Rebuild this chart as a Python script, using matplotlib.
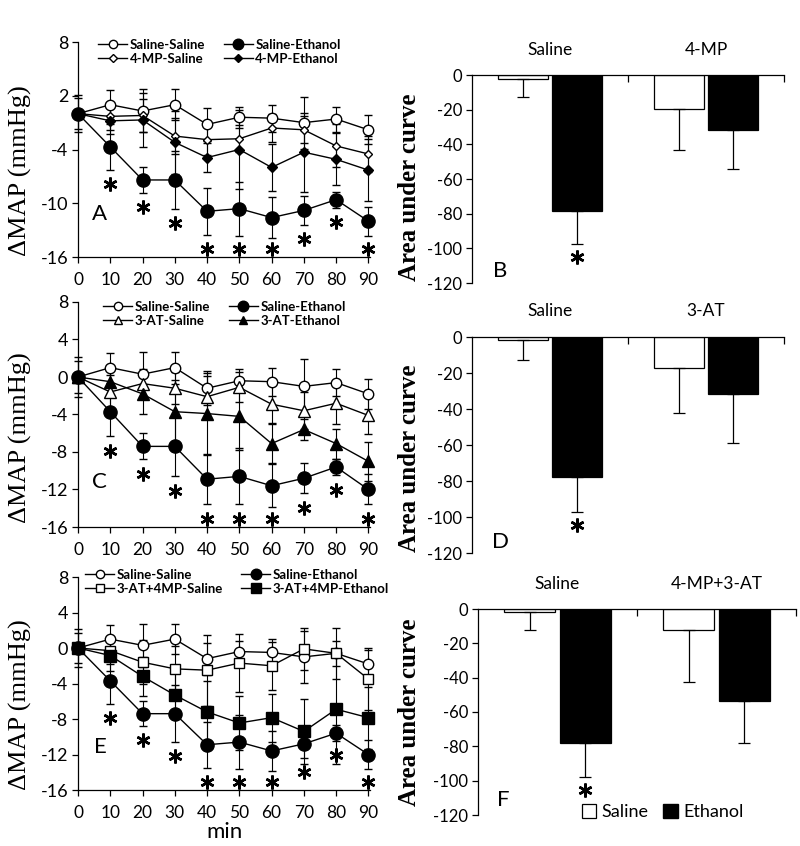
"""Ethanol / 4-MP / 3-AT blood pressure figure: MAP time course (A, C, E) and AUC bars (B, D, F)."""
import matplotlib.pyplot as plt
import numpy as np
from matplotlib.lines import Line2D
from matplotlib.patches import Patch

plt.rcParams["font.family"] = ["Lato", "DejaVu Sans"]
plt.rcParams["axes.unicode_minus"] = False

# --- values ---
TIME = [0, 10, 20, 30, 40, 50, 60, 70, 80, 90]

SAL_SAL = [0, 1.0, 0.3, 1.0, -1.2, -0.4, -0.5, -1.0, -0.6, -1.8]
SAL_SAL_ERR = [2.1, 1.6, 2.4, 1.7, 1.8, 1.2, 1.5, 2.9, 1.4, 1.6]
SAL_ETH = [0, -3.7, -7.4, -7.4, -10.9, -10.6, -11.6, -10.8, -9.6, -12.0]
SAL_ETH_ERR = [1.7, 2.6, 1.4, 3.2, 2.6, 3.0, 2.3, 1.6, 0.9, 1.6]

MP_SAL = [0, -0.3, -0.2, -2.5, -2.9, -2.8, -1.6, -1.8, -3.6, -4.5]
MP_SAL_ERR = [0, 1.5, 1.8, 2.0, 1.7, 1.5, 1.6, 1.5, 2.4, 2.0]
MP_ETH = [0, -0.8, -0.7, -3.2, -4.9, -4.0, -6.0, -4.3, -5.1, -6.3]
MP_ETH_ERR = [0, 1.5, 3.0, 3.5, 1.6, 4.4, 2.6, 4.4, 2.9, 3.5]

AT_SAL = [0, -1.6, -0.7, -1.2, -2.1, -1.1, -2.9, -3.6, -2.8, -4.1]
AT_SAL_ERR = [0, 1.8, 1.5, 1.7, 2.2, 1.6, 2.0, 2.0, 2.2, 2.0]
AT_ETH = [0, -0.5, -1.8, -3.7, -3.9, -4.2, -7.1, -5.6, -7.1, -9.0]
AT_ETH_ERR = [0, 1.4, 2.1, 3.4, 4.3, 3.6, 2.1, 1.1, 1.6, 2.1]

COMBO_SAL = [0, -0.3, -1.6, -2.35, -2.5, -1.7, -2.0, -0.1, -0.6, -3.5]
COMBO_SAL_ERR = [0, 1.5, 2.5, 2.6, 4.0, 3.3, 2.7, 2.4, 2.9, 3.5]
COMBO_ETH = [0, -0.85, -3.2, -5.3, -7.2, -8.45, -7.85, -9.4, -6.9, -7.85]
COMBO_ETH_ERR = [0, 1.7, 2.2, 2.6, 3.5, 3.0, 2.7, 3.7, 6.2, 3.5]

# area under curve, [saline pretreatment, drug pretreatment]
AUC_B_GROUPS = ["Saline", "4-MP"]
AUC_B_SAL = [-2.3, -19.5]
AUC_B_SAL_ERR = [10.2, 24.0]
AUC_B_ETH = [-78.5, -32.0]
AUC_B_ETH_ERR = [19.0, 22.0]

AUC_D_GROUPS = ["Saline", "3-AT"]
AUC_D_SAL = [-1.8, -17.5]
AUC_D_SAL_ERR = [11.0, 25.0]
AUC_D_ETH = [-78.0, -31.5]
AUC_D_ETH_ERR = [19.0, 27.5]

AUC_F_GROUPS = ["Saline", "4-MP+3-AT"]
AUC_F_SAL = [-1.8, -12.5]
AUC_F_SAL_ERR = [10.7, 30.3]
AUC_F_ETH = [-78.2, -53.5]
AUC_F_ETH_ERR = [19.5, 24.7]

W, H = 800, 846


def box(left, top, right, bottom):
    return [left / W, 1 - bottom / H, (right - left) / W, (bottom - top) / H]


def star_marks(ax, x, y):
    ax.plot(x, y, linestyle="none", marker=(6, 2, 0), ms=10, mew=1.8,
            color="black", clip_on=False, zorder=5)


def line_panel(fig, rect, series, labels, letter, yticks, legend_xy):
    ax = fig.add_axes(rect)
    handles = []
    for (mean, err, marker, ms, face), lab in zip(series, labels):
        ax.errorbar(TIME, mean, yerr=err, color="black", lw=1.0, marker=marker,
                    ms=ms, mfc=face, mec="black", mew=1.0, capsize=3,
                    elinewidth=0.8, capthick=0.8, clip_on=False, zorder=3)
        handles.append(Line2D([], [], color="black", lw=1.0, marker=marker,
                              ms=ms * 0.8, mfc=face, mec="black", mew=1.0))
    # significance stars under the Saline-Ethanol curve
    eth = np.array(SAL_ETH[1:])
    eth_err = np.array(SAL_ETH_ERR[1:])
    star_marks(ax, TIME[1:], np.maximum(eth - eth_err - 1.6, -15.1))

    ax.set_xlim(0, 90.5)
    ax.set_ylim(-16, 8)
    ax.set_xticks(TIME)
    ax.set_yticks(yticks)
    ax.set_yticklabels([str(t) for t in yticks])
    ax.tick_params(axis="x", labelsize=12.5, length=4, width=0.9, pad=7)
    ax.tick_params(axis="y", labelsize=13, length=4, width=0.9, pad=3)
    for side in ("top", "right"):
        ax.spines[side].set_visible(False)
    for side in ("left", "bottom"):
        ax.spines[side].set_linewidth(0.9)
    order = [0, 2, 1, 3]
    ax.legend([handles[i] for i in order], [labels[i] for i in order], ncol=2,
              loc="upper left", bbox_to_anchor=legend_xy, bbox_transform=fig.transFigure,
              frameon=False, borderpad=0, borderaxespad=0, handlelength=2.2,
              handletextpad=0.2, labelspacing=0.15, columnspacing=1.4,
              prop={"weight": "bold", "size": 9.5})
    ax.text(0.075, 0.2, letter, transform=ax.transAxes, fontsize=16,
            ha="center", va="center")
    return ax


def bar_panel(fig, rect, groups, sal, sal_err, eth, eth_err, letter, letter_xy):
    ax = fig.add_axes(rect)
    pos = np.arange(len(groups)) + 0.5
    width = 0.32
    zeros = np.zeros(len(groups))
    ax.bar(pos - 0.175, sal, width, color="white", edgecolor="black", lw=0.9, zorder=2)
    ax.bar(pos + 0.175, eth, width, color="black", edgecolor="black", lw=0.9, zorder=2)
    ax.errorbar(pos - 0.175, sal, yerr=[sal_err, zeros], fmt="none", ecolor="black",
                elinewidth=0.9, capsize=4, capthick=0.9, zorder=3)
    ax.errorbar(pos + 0.175, eth, yerr=[eth_err, zeros], fmt="none", ecolor="black",
                elinewidth=0.9, capsize=4, capthick=0.9, zorder=3)
    star_marks(ax, [pos[0] + 0.175], [eth[0] - eth_err[0] - 7.5])

    ax.set_xlim(0, len(groups))
    ax.set_ylim(-120, 0)
    yt = np.arange(-120, 1, 20)
    ax.set_yticks(yt)
    ax.set_yticklabels([str(int(t)) for t in yt])
    ax.xaxis.tick_top()
    ax.set_xticks(np.arange(1, len(groups) + 1))
    ax.set_xticklabels([])
    ax.tick_params(axis="x", direction="in", length=5, width=0.9)
    ax.tick_params(axis="y", labelsize=12, length=4, width=0.9, pad=3)
    for side in ("bottom", "right"):
        ax.spines[side].set_visible(False)
    for side in ("left", "top"):
        ax.spines[side].set_linewidth(0.9)
    for p, g in zip(pos, groups):
        ax.text(p, 1.12, g, transform=ax.get_xaxis_transform(), ha="center",
                va="center", fontsize=12.5)
    ax.text(letter_xy[0], letter_xy[1], letter, transform=ax.transAxes,
            fontsize=16, ha="center", va="center")
    return ax


fig = plt.figure(figsize=(8.0, 8.46), dpi=100)

line_panel(fig, box(78, 42, 370, 257),
           [(SAL_SAL, SAL_SAL_ERR, "o", 7.5, "white"),
            (SAL_ETH, SAL_ETH_ERR, "o", 9.5, "black"),
            (MP_SAL, MP_SAL_ERR, "D", 4.5, "white"),
            (MP_ETH, MP_ETH_ERR, "D", 5.5, "black")],
           ["Saline-Saline", "Saline-Ethanol", "4-MP-Saline", "4-MP-Ethanol"],
           "A", [8, 2, -4, -10, -16], (98 / W, 1 - 39 / H))

line_panel(fig, box(78, 302, 370, 527),
           [(SAL_SAL, SAL_SAL_ERR, "o", 7.5, "white"),
            (SAL_ETH, SAL_ETH_ERR, "o", 9.5, "black"),
            (AT_SAL, AT_SAL_ERR, "^", 8, "white"),
            (AT_ETH, AT_ETH_ERR, "^", 8, "black")],
           ["Saline-Saline", "Saline-Ethanol", "3-AT-Saline", "3-AT-Ethanol"],
           "C", [8, 4, 0, -4, -8, -12, -16], (103 / W, 1 - 301 / H))

line_panel(fig, box(78, 577, 370, 790),
           [(SAL_SAL, SAL_SAL_ERR, "o", 7.5, "white"),
            (SAL_ETH, SAL_ETH_ERR, "o", 9.5, "black"),
            (COMBO_SAL, COMBO_SAL_ERR, "s", 7.5, "white"),
            (COMBO_ETH, COMBO_ETH_ERR, "s", 9, "black")],
           ["Saline-Saline", "Saline-Ethanol", "3-AT+4MP-Saline", "3-AT+4MP-Ethanol"],
           "E", [8, 4, 0, -4, -8, -12, -16], (85 / W, 1 - 569 / H))
fig.text(224 / W, 1 - 832 / H, "min", ha="center", va="center", fontsize=16)

bar_panel(fig, box(472, 75, 784, 283), AUC_B_GROUPS, AUC_B_SAL, AUC_B_SAL_ERR,
          AUC_B_ETH, AUC_B_ETH_ERR, "B", (0.09, 0.06))
bar_panel(fig, box(472, 337, 784, 553), AUC_D_GROUPS, AUC_D_SAL, AUC_D_SAL_ERR,
          AUC_D_ETH, AUC_D_ETH_ERR, "D", (0.09, 0.05))
axf = bar_panel(fig, box(478, 609, 796, 815), AUC_F_GROUPS, AUC_F_SAL, AUC_F_SAL_ERR,
                AUC_F_ETH, AUC_F_ETH_ERR, "F", (0.08, 0.075))
axf.legend([Patch(fc="white", ec="black", lw=0.9), Patch(fc="black", ec="black")],
           ["Saline", "Ethanol"], ncol=2, loc="center left",
           bbox_to_anchor=(582 / W, 1 - 812 / H), bbox_transform=fig.transFigure,
           frameon=False, borderpad=0, borderaxespad=0, handlelength=0.8,
           handleheight=0.8, handletextpad=0.3, columnspacing=0.8, fontsize=13)

# axis titles
for yc in (171, 438, 705):
    fig.text(20 / W, 1 - yc / H, "\u0394MAP (mmHg)", rotation=90, ha="center",
             va="center", fontsize=19, family="Liberation Serif")
for yc in (187, 458, 712):
    fig.text(410 / W, 1 - yc / H, "Area under curve", rotation=90, ha="center",
             va="center", fontsize=18, fontweight="bold", family="Liberation Serif")

fig.savefig("out.png", dpi=100)
